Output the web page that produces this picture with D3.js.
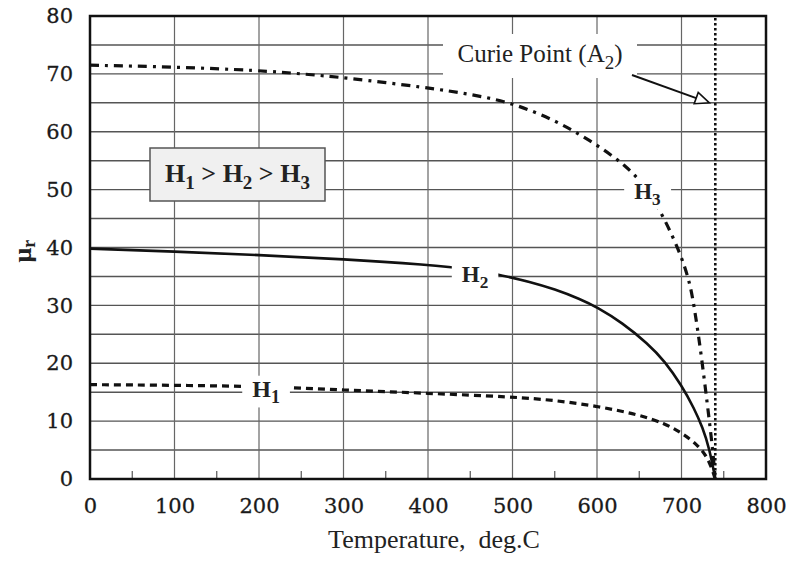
<!DOCTYPE html>
<html>
<head>
<meta charset="utf-8">
<script src="https://cdn.jsdelivr.net/npm/d3@7"></script>
<style>
  body { margin: 0; background: #fff; }
  svg { display: block; }
</style>
</head>
<body>
<svg id="chart"></svg>
<script>
// curves: temperature (deg.C) -> relative permeability
let h1Temps = [0, 100, 200, 300, 400, 500, 550, 600, 650, 680, 700, 720, 732, 740];
let h1Values = [16.3, 16.2, 16, 15.4, 14.8, 14.2, 13.6, 12.6, 11.1, 9.6, 8, 5.8, 3.5, 0];

let h2Temps = [0, 100, 200, 300, 400, 450, 490, 520, 550, 580, 600, 630, 660, 680, 700, 715, 725, 733, 740];
let h2Values = [39.8, 39.3, 38.7, 38, 37, 36.3, 35.1, 34.1, 32.8, 31.1, 29.7, 27.0, 23.4, 20.4, 16.2, 12.2, 8.9, 5.3, 0];

let h3Temps = [0, 100, 200, 250, 300, 400, 450, 500, 550, 590, 635, 660, 680, 700, 710, 715, 722, 731, 737, 740];
let h3Values = [71.5, 71.2, 70.6, 70, 69.4, 67.6, 66.5, 65, 62, 58.7, 54.2, 50, 45, 38.5, 33.8, 29.8, 23, 12.5, 5, 0];

let curieTemp = 740;
let xTicks = [0, 100, 200, 300, 400, 500, 600, 700, 800];
let yTicks = [0, 10, 20, 30, 40, 50, 60, 70, 80];

let margin = { top: 16, right: 21, bottom: 83, left: 90 },
    W = 787, H = 562,
    width = W - margin.left - margin.right,
    height = H - margin.top - margin.bottom;

let x = d3.scaleLinear().domain([0, 800]).range([0, width]),
    y = d3.scaleLinear().domain([0, 80]).range([height, 0]);

let svg = d3.select("#chart").attr("width", W).attr("height", H);
let chart = svg.append("g")
    .attr("transform", "translate(" + margin.left + "," + margin.top + ")");

const serif = "'Liberation Serif', 'Times New Roman', serif";
const tickFont = "'DejaVu Serif', serif";

// grid: horizontal every 5, vertical every 100
chart.append("g").selectAll("line")
    .data(d3.range(5, 80, 5))
    .join("line")
    .attr("x1", 0).attr("x2", width)
    .attr("y1", d => y(d)).attr("y2", d => y(d))
    .attr("stroke", "#555").attr("stroke-width", 1.4);

chart.append("g").selectAll("line")
    .data(d3.range(100, 800, 100))
    .join("line")
    .attr("x1", d => x(d)).attr("x2", d => x(d))
    .attr("y1", 0).attr("y2", height)
    .attr("stroke", "#666").attr("stroke-width", 1.2);

// minor ticks at the bottom
chart.append("g").selectAll("line")
    .data(d3.range(50, 800, 100))
    .join("line")
    .attr("x1", d => x(d)).attr("x2", d => x(d))
    .attr("y1", height).attr("y2", height - 8)
    .attr("stroke", "#555").attr("stroke-width", 1.2);

// axes (labels only, frame drawn separately)
let xAxis = d3.axisBottom(x).tickValues(xTicks).tickSize(0).tickPadding(19);
let yAxis = d3.axisLeft(y).tickValues(yTicks).tickSize(0).tickPadding(17);

let gx = chart.append("g").attr("transform", "translate(0," + height + ")").call(xAxis);
let gy = chart.append("g").call(yAxis);
[gx, gy].forEach(g => {
    g.select(".domain").remove();
    g.selectAll("text")
        .attr("font-family", tickFont)
        .attr("font-size", 21)
        .attr("fill", "#1a1a1a")
        .attr("stroke", "#1a1a1a").attr("stroke-width", 0.3);
});

// curves (smoothed through the read-off points)
let toPts = (t, v) => t.map((d, i) => [d, v[i]]);
let line = d3.line()
    .x(d => x(d[0])).y(d => y(d[1]))
    .curve(d3.curveBasis);

chart.append("path").datum(toPts(h3Temps, h3Values))
    .attr("d", line).attr("fill", "none")
    .attr("stroke", "#111").attr("stroke-width", 3.2)
    .attr("stroke-dasharray", "9,6,3,6");

chart.append("path").datum(toPts(h2Temps, h2Values))
    .attr("d", line).attr("fill", "none")
    .attr("stroke", "#111").attr("stroke-width", 2.6);

chart.append("path").datum(toPts(h1Temps, h1Values))
    .attr("d", line).attr("fill", "none")
    .attr("stroke", "#111").attr("stroke-width", 3.2)
    .attr("stroke-dasharray", "7,5");

// Curie point dotted line
chart.append("line")
    .attr("x1", x(curieTemp)).attr("x2", x(curieTemp))
    .attr("y1", 2).attr("y2", height)
    .attr("stroke", "#111").attr("stroke-width", 2.6)
    .attr("stroke-dasharray", "2.5,2.5");

// curve labels with white backgrounds cutting grid and curves
function label(tx, ty, sub, size) {
    let g = chart.append("g");
    let bg = g.append("rect").attr("fill", "#fff");
    let t = g.append("text")
        .attr("x", tx).attr("y", ty)
        .attr("font-family", serif)
        .attr("font-size", size)
        .attr("font-weight", "bold")
        .attr("fill", "#222");
    t.append("tspan").text("H");
    t.append("tspan").attr("dy", size * 0.28).attr("font-size", size * 0.75).text(sub);
    let b = t.node().getBBox();
    bg.attr("x", b.x - 10).attr("y", b.y)
        .attr("width", b.width + 20).attr("height", b.height);
}

label(x(192), y(15.6) + 8, "1", 24);
label(x(440), y(35.6) + 9, "2", 23);
label(x(644), y(49.8) + 8, "3", 23);

// field ordering box
let box = chart.append("g");
box.append("rect")
    .attr("x", 60).attr("y", 132).attr("width", 175).attr("height", 53)
    .attr("fill", "#f0f0f0").attr("stroke", "#555").attr("stroke-width", 1.5);
let bt = box.append("text")
    .attr("x", 147.5).attr("y", 166)
    .attr("text-anchor", "middle")
    .attr("font-family", serif).attr("font-size", 26)
    .attr("font-weight", "bold").attr("fill", "#222");
bt.append("tspan").text("H");
bt.append("tspan").attr("dy", 7).attr("font-size", 19).text("1");
bt.append("tspan").attr("dy", -7).text(" > H");
bt.append("tspan").attr("dy", 7).attr("font-size", 19).text("2");
bt.append("tspan").attr("dy", -7).text(" > H");
bt.append("tspan").attr("dy", 7).attr("font-size", 19).text("3");

// Curie point label
let cg = chart.append("g");
cg.append("rect").attr("x", 353).attr("y", 18).attr("width", 194).attr("height", 44).attr("fill", "#fff");
let ct = cg.append("text")
    .attr("x", 450).attr("y", 46)
    .attr("text-anchor", "middle")
    .attr("font-family", serif).attr("font-size", 25).attr("fill", "#222");
ct.append("tspan").text("Curie Point (A");
ct.append("tspan").attr("dy", 7).attr("font-size", 19).text("2");
ct.append("tspan").attr("dy", -7).text(")");

// arrow with open head
let ax0 = 542, ay0 = 59, ax1 = x(733), ay1 = y(65);
let ang = Math.atan2(ay1 - ay0, ax1 - ax0);
let hl = 14, hw = 6;
let bxp = ax1 - hl * Math.cos(ang), byp = ay1 - hl * Math.sin(ang);
chart.append("line").attr("x1", ax0).attr("y1", ay0).attr("x2", bxp).attr("y2", byp)
    .attr("stroke", "#111").attr("stroke-width", 2);
chart.append("path")
    .attr("d", "M" + ax1 + "," + ay1 +
        "L" + (bxp + hw * Math.sin(ang)) + "," + (byp - hw * Math.cos(ang)) +
        "L" + (bxp - hw * Math.sin(ang)) + "," + (byp + hw * Math.cos(ang)) + "Z")
    .attr("fill", "#fff").attr("stroke", "#111").attr("stroke-width", 1.6);

// frame
chart.append("rect").attr("x", 0).attr("y", 0).attr("width", width).attr("height", height)
    .attr("fill", "none").attr("stroke", "#111").attr("stroke-width", 2.5);

// axis titles
svg.append("text")
    .attr("x", 434).attr("y", 548)
    .attr("text-anchor", "middle")
    .attr("font-family", serif).attr("font-size", 26).attr("fill", "#222")
    .attr("xml:space", "preserve")
    .text("Temperature,  deg.C");

let yl = svg.append("text")
    .attr("transform", "translate(31,251) rotate(-90)")
    .attr("text-anchor", "middle")
    .attr("font-family", serif).attr("font-size", 26).attr("font-weight", "bold").attr("fill", "#222");
yl.append("tspan").text("μ");
yl.append("tspan").attr("dy", 4).attr("font-size", 18).text("r");
</script>
</body>
</html>
